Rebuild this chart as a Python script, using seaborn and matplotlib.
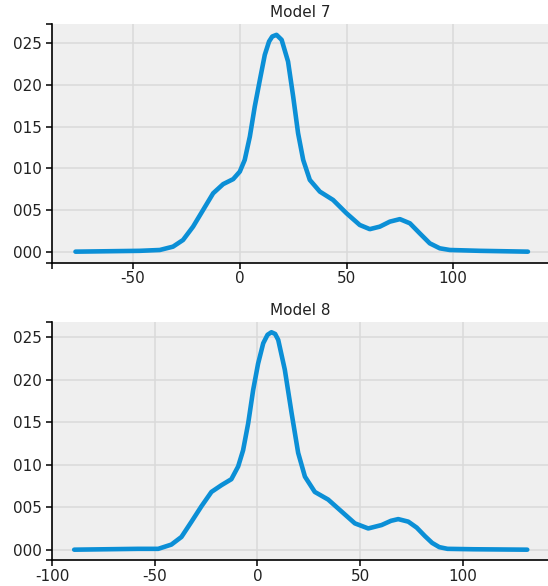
import numpy as np
import pandas as pd
import seaborn as sns
import matplotlib.pyplot as plt
from matplotlib.ticker import FixedLocator

# density curves
model7_x = [-77, -46.9, -37.5, -31.3, -26.6, -21.9, -17.2, -12.5, -7.8, -3.1, 0, 2.3, 4.7, 7.0,
            9.4, 11.7, 13.7, 15.2, 17.2, 19.6, 22.6, 25.0, 27.3, 29.7, 32.8, 37.5, 43.7, 50.0,
            56.2, 60.9, 65.6, 70.3, 75.0, 79.7, 84.3, 89.0, 93.7, 98.4, 112.5, 135]
model7_y = [0, 0.0001, 0.0002, 0.0006, 0.0014, 0.0030, 0.0050, 0.0070, 0.0081, 0.0087, 0.0096,
            0.0110, 0.0138, 0.0174, 0.0206, 0.0236, 0.0252, 0.0258, 0.0260, 0.0254, 0.0228,
            0.0186, 0.0142, 0.0110, 0.0086, 0.0072, 0.0062, 0.0046, 0.0032, 0.0027, 0.0030,
            0.0036, 0.0039, 0.0034, 0.0022, 0.0010, 0.0004, 0.0002, 0.0001, 0]

model8_x = [-89.2, -58.1, -48.3, -41.9, -37.0, -32.1, -27.3, -22.4, -17.5, -12.7, -9.4, -7.0,
            -4.5, -2.1, 0.3, 2.8, 4.9, 6.8, 8.6, 10.1, 13.3, 16.6, 19.8, 23.1, 27.9, 34.4, 40.9,
            47.4, 53.9, 60.4, 65.0, 68.5, 73.4, 77.5, 81.5, 85.0, 88.5, 92.5, 105, 131.3]
model8_y = [0, 0.0001, 0.0001, 0.0006, 0.0015, 0.0033, 0.0051, 0.0068, 0.0076, 0.0083, 0.0098,
            0.0117, 0.0149, 0.0188, 0.0219, 0.0243, 0.0253, 0.0256, 0.0254, 0.0247, 0.0212,
            0.0161, 0.0114, 0.0086, 0.0068, 0.0059, 0.0045, 0.0031, 0.0025, 0.0029, 0.0034,
            0.0036, 0.0033, 0.0026, 0.0016, 0.0008, 0.0003, 0.0001, 0.00005, 0]

y_ticks = [0, 0.005, 0.010, 0.015, 0.020, 0.025]
y_labels = ["000", "005", "010", "015", "020", "025"]

panels = [
    ("Model 7", model7_x, model7_y, (-88, 144.4), (-0.00136, 0.0273), [-50, 0, 50, 100]),
    ("Model 8", model8_x, model8_y, (-100, 141.4), (-0.00125, 0.02677), [-100, -50, 0, 50, 100]),
]

sns.set_style("darkgrid", {"axes.facecolor": "#efefef", "grid.color": "#d9d9d9"})
plt.rcParams["font.family"] = ["DejaVu Sans"]
plt.rcParams["axes.unicode_minus"] = False

W, H = 548, 586
fig = plt.figure(figsize=(W / 100, H / 100), dpi=100)
boxes = [(52, 24, 263), (52, 322.3, 560.3)]

for (title, xs, ys, xlim, ylim, xt), (l, t, b) in zip(panels, boxes):
    ax = fig.add_axes([l / W, 1 - b / H, (W - l) / W, (b - t) / H])
    df = pd.DataFrame({"x": xs, "y": ys})
    sns.lineplot(data=df, x="x", y="y", ax=ax, color="#0b8fd6", linewidth=3.3,
                 solid_capstyle="round", solid_joinstyle="round")
    ax.set_xlim(*xlim)
    ax.set_ylim(*ylim)
    ax.set_xticks(xt)
    ax.set_yticks(y_ticks)
    ax.set_yticklabels(y_labels)
    ax.xaxis.set_minor_locator(FixedLocator([xlim[0]]))
    ax.yaxis.set_minor_locator(FixedLocator([ylim[0], ylim[1]]))
    ax.set_xlabel("")
    ax.set_ylabel("")
    ax.grid(True, which="major", linewidth=1.1)
    ax.grid(False, which="minor")
    for side in ["top", "right"]:
        ax.spines[side].set_visible(False)
    for side in ["left", "bottom"]:
        ax.spines[side].set_visible(True)
        ax.spines[side].set_color("black")
        ax.spines[side].set_linewidth(1.2)
    ax.tick_params(which="both", direction="out", length=4.5, width=1.1, color="black",
                   labelsize=11, labelcolor="#222222", bottom=True, left=True)
    ax.tick_params(axis="y", pad=3)
    ax.tick_params(axis="x", pad=1.5)
    ax.set_title(title, fontsize=11, color="#222222", pad=5)

fig.savefig("out.png", dpi=100)
